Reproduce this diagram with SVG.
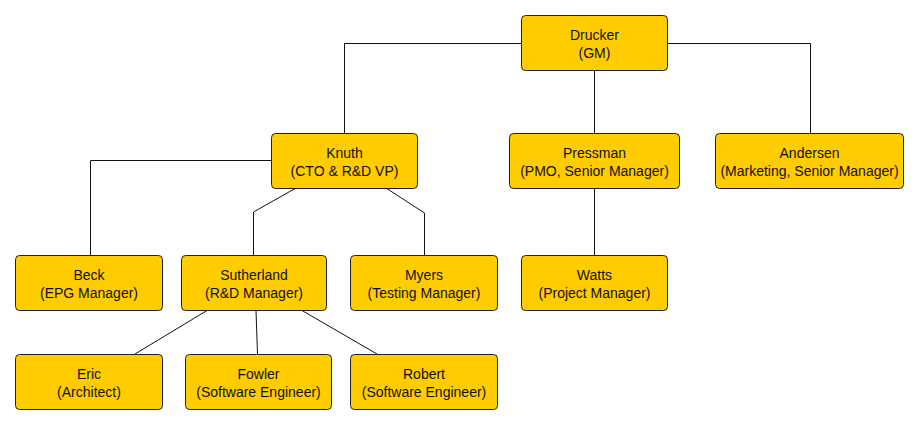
<svg xmlns="http://www.w3.org/2000/svg" width="920" height="424" viewBox="0 0 920 424">
<style>
.box{fill:#FFCC00;stroke:#222;stroke-width:1}
text{font-family:"Liberation Sans",Arial,sans-serif;font-size:14px;fill:#111;text-anchor:middle}
.c{fill:none;stroke:#111;stroke-width:1}
</style>
<rect width="920" height="424" fill="#fff"/>
<g id="connectors">
<path class="c" d="M521.5 43.5H344.5V133"/>
<path class="c" d="M667.5 43.5H810.5V133"/>
<path class="c" d="M594.5 71V133"/>
<path class="c" d="M271 160.5H90.5V255"/>
<path class="c" d="M296 188L253.5 212V255"/>
<path class="c" d="M386 188L424.5 213V255"/>
<path class="c" d="M594.5 188V255"/>
<path class="c" d="M207 310.5L135 354"/>
<path class="c" d="M256 310.5L257.5 354"/>
<path class="c" d="M302 310.5L377 354"/>
</g>
<g id="drucker"><rect class="box" x="521.5" y="15.5" width="146" height="55" rx="4"/><text x="594.5" y="39.5">Drucker</text><text x="594.5" y="57.5">(GM)</text></g>
<g id="knuth"><rect class="box" x="271.5" y="133.5" width="146" height="55" rx="4"/><text x="344.5" y="157.5">Knuth</text><text x="344.5" y="175.5">(CTO &amp; R&amp;D VP)</text></g>
<g id="pressman"><rect class="box" x="509.5" y="133.5" width="170" height="55" rx="4"/><text x="594.5" y="157.5">Pressman</text><text x="594.5" y="175.5">(PMO, Senior Manager)</text></g>
<g id="andersen"><rect class="box" x="715.5" y="133.5" width="188" height="55" rx="4"/><text x="809.5" y="157.5">Andersen</text><text x="809.5" y="175.5">(Marketing, Senior Manager)</text></g>
<g id="beck"><rect class="box" x="15.5" y="255.5" width="147" height="55" rx="4"/><text x="89" y="279.5">Beck</text><text x="89" y="297.5">(EPG Manager)</text></g>
<g id="sutherland"><rect class="box" x="181.5" y="255.5" width="145" height="55" rx="4"/><text x="254" y="279.5">Sutherland</text><text x="254" y="297.5">(R&amp;D Manager)</text></g>
<g id="myers"><rect class="box" x="350.5" y="255.5" width="147" height="55" rx="4"/><text x="424" y="279.5">Myers</text><text x="424" y="297.5">(Testing Manager)</text></g>
<g id="watts"><rect class="box" x="521.5" y="255.5" width="146" height="55" rx="4"/><text x="594.5" y="279.5">Watts</text><text x="594.5" y="297.5">(Project Manager)</text></g>
<g id="eric"><rect class="box" x="15.5" y="354.5" width="147" height="55" rx="4"/><text x="89" y="378.5">Eric</text><text x="89" y="396.5">(Architect)</text></g>
<g id="fowler"><rect class="box" x="185.5" y="354.5" width="146" height="55" rx="4"/><text x="258.5" y="378.5">Fowler</text><text x="258.5" y="396.5">(Software Engineer)</text></g>
<g id="robert"><rect class="box" x="350.5" y="354.5" width="147" height="55" rx="4"/><text x="424" y="378.5">Robert</text><text x="424" y="396.5">(Software Engineer)</text></g>
</svg>
